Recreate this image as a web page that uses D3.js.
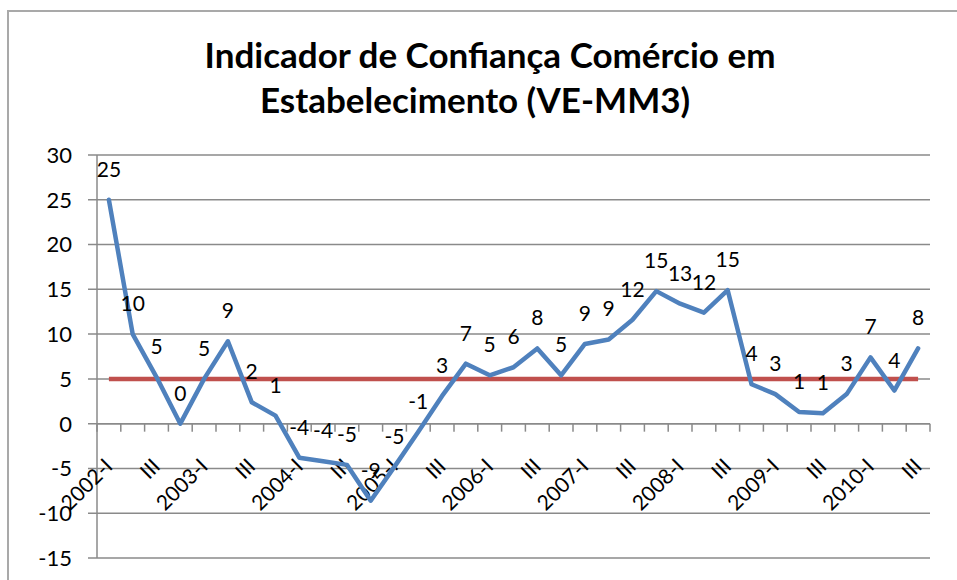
<!DOCTYPE html>
<html>
<head>
<meta charset="utf-8">
<script src="https://cdn.jsdelivr.net/npm/d3@7"></script>
<style>
  html, body { margin: 0; padding: 0; background: #fff; }
  svg { display: block; }
  text { font-family: Lato, "Open Sans", sans-serif; }
</style>
</head>
<body>
<svg id="chart" width="957" height="580"></svg>
<script>
// ---- data ----
const titleLines = ["Indicador de Confiança Comércio em", "Estabelecimento (VE-MM3)"];
const categories = [
  "2002-I","II","III","IV",
  "2003-I","II","III","IV",
  "2004-I","II","III","IV",
  "2005-I","II","III","IV",
  "2006-I","II","III","IV",
  "2007-I","II","III","IV",
  "2008-I","II","III","IV",
  "2009-I","II","III","IV",
  "2010-I","II","III"
];
const indicator = [
  25.0, 10.0, 5.2, 0.0,
  5.0, 9.2, 2.4, 0.9,
  -3.8, -4.2, -4.6, -8.6,
  -4.8, -0.9, 3.1, 6.7,
  5.4, 6.3, 8.4, 5.4,
  8.9, 9.4, 11.6, 14.8,
  13.4, 12.4, 14.9, 4.4,
  3.3, 1.3, 1.15, 3.3,
  7.4, 3.7, 8.4
];
const referenceValue = 5;
const reference = categories.map(() => referenceValue);
const yTicks = [-15, -10, -5, 0, 5, 10, 15, 20, 25, 30];
const shownLabelStep = 2; // every other category label is displayed

// ---- layout ----
const svg = d3.select("#chart");
const plot = { left: 97, right: 930, top: 155, bottom: 558 };

// categories repeat ("II", "III"...), so the band scale is keyed by index
const idx = d3.range(categories.length);
const x = d3.scaleBand().domain(idx).range([plot.left, plot.right]).padding(0);
const cx = i => x(i) + x.bandwidth() / 2;
const y = d3.scaleLinear().domain([-15, 30]).range([plot.bottom, plot.top]);

// outer frame
svg.append("path")
  .attr("d", "M8,580 L8,11 L957,11")
  .attr("fill", "none").attr("stroke", "#a9a9a9").attr("stroke-width", 2);

// title
svg.append("text").attr("x", 490).attr("y", 68).attr("text-anchor", "middle")
  .attr("font-size", 35).attr("font-weight", 700).attr("fill", "#000").text(titleLines[0]);
svg.append("text").attr("x", 475).attr("y", 113).attr("text-anchor", "middle")
  .attr("font-size", 35).attr("font-weight", 700).attr("fill", "#000").text(titleLines[1]);

// gridlines + y axis
const gridColor = "#8a8a8a";
svg.append("g").selectAll("line").data(yTicks).join("line")
  .attr("x1", plot.left - 9).attr("x2", plot.right)
  .attr("y1", d => y(d)).attr("y2", d => y(d))
  .attr("stroke", gridColor).attr("stroke-width", 1.5);
svg.append("line")
  .attr("x1", plot.left).attr("x2", plot.left)
  .attr("y1", plot.top).attr("y2", plot.bottom)
  .attr("stroke", gridColor).attr("stroke-width", 1.5);
svg.append("g").selectAll("text").data(yTicks).join("text")
  .attr("x", 72).attr("y", d => y(d)).attr("dy", "0.36em")
  .attr("text-anchor", "end").attr("font-size", 22).attr("fill", "#000")
  .text(d => d);

// category axis at zero
const y0 = y(0);
svg.append("line")
  .attr("x1", plot.left).attr("x2", plot.right)
  .attr("y1", y0).attr("y2", y0)
  .attr("stroke", gridColor).attr("stroke-width", 1.5);
const boundaries = idx.map(i => x(i)).concat([plot.right]);
svg.append("g").selectAll("line").data(boundaries).join("line")
  .attr("x1", d => d).attr("x2", d => d)
  .attr("y1", y0).attr("y2", y0 + 8)
  .attr("stroke", gridColor).attr("stroke-width", 1.5);
svg.append("g").selectAll("text")
  .data(idx.filter(i => i % shownLabelStep === 0))
  .join("text")
  .attr("transform", i => `translate(${cx(i) + 5},${y0 + 44}) rotate(-45)`)
  .attr("text-anchor", "end").attr("font-size", 21).attr("fill", "#000")
  .text(i => categories[i]);

// reference line
const line = d3.line().x((d, i) => cx(i)).y(d => y(d));
svg.append("path").datum(reference)
  .attr("d", line).attr("fill", "none")
  .attr("stroke", "#C0504D").attr("stroke-width", 4.5);

// indicator line
svg.append("path").datum(indicator)
  .attr("d", line).attr("fill", "none")
  .attr("stroke", "#4F81BD").attr("stroke-width", 4.5)
  .attr("stroke-linejoin", "round").attr("stroke-linecap", "round");

// data labels
const fmt = v => { const r = Math.round(v); return (r === 0 ? 0 : r).toString(); };
svg.append("g").selectAll("text").data(indicator).join("text")
  .attr("x", (d, i) => cx(i))
  .attr("y", d => y(d) - 23)
  .attr("text-anchor", "middle").attr("font-size", 21).attr("fill", "#000")
  .text(d => fmt(d));
</script>
</body>
</html>
